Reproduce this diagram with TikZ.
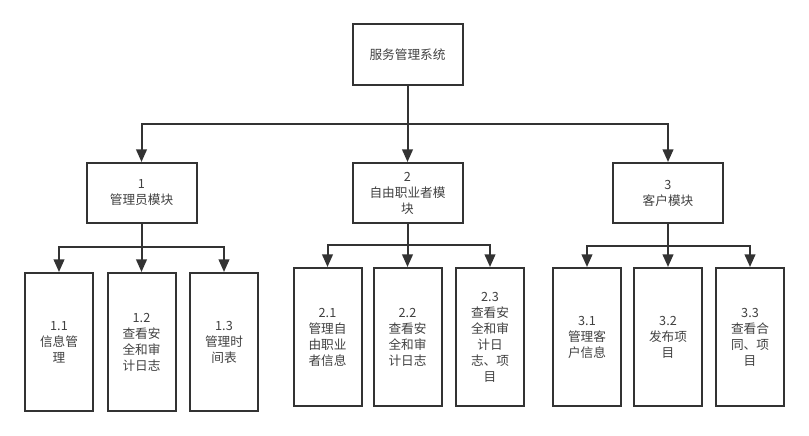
\documentclass[tikz,border=0pt]{standalone}
\usepackage{fontspec}
\setmainfont{Noto Sans CJK SC}
\usetikzlibrary{arrows.meta}

\begin{document}
\begin{tikzpicture}[x=0.75pt,y=-0.75pt,
  box/.style={draw=black!80,line width=1.5pt,inner sep=0pt,align=center,text=black!75,font=\fontsize{9.5}{12}\selectfont},
  topbox/.style={box,minimum width=82.5pt,minimum height=45.75pt},
  modbox/.style={box,minimum width=82.5pt,minimum height=45pt},
  leaf/.style={box,minimum width=51pt,minimum height=103.5pt},
  arr/.style={draw=black!80,line width=1.5pt,-{Triangle[length=9.5pt,width=8pt]}}]

\useasboundingbox (0,0) rectangle (809,435);

\node[topbox] (root) at (407.5,54.5) {服务管理系统};

\node[modbox] (m1) at (141.5,193) {1\\管理员模块};
\node[modbox] (m2) at (407.5,193) {2\\自由职业者模\\块};
\node[modbox] (m3) at (668,193) {3\\客户模块};

\node[leaf] (m11) at (59,342) {1.1\\信息管\\理};
\node[leaf] (m12) at (141.5,342) {1.2\\查看安\\全和审\\计日志};
\node[leaf] (m13) at (224,342) {1.3\\管理时\\间表};

\node[leaf] (m21) at (327.5,337) {2.1\\管理自\\由职业\\者信息};
\node[leaf] (m22) at (407.5,337) {2.2\\查看安\\全和审\\计日志};
\node[leaf] (m23) at (490,337) {2.3\\查看安\\全和审\\计日\\志、项\\目};

\node[leaf] (m31) at (587,337) {3.1\\管理客\\户信息};
\node[leaf] (m32) at (668,337) {3.2\\发布项\\目};
\node[leaf] (m33) at (750,337) {3.3\\查看合\\同、项\\目};

\coordinate (b0) at (407.5,124);
\draw[arr] (root.south) -- (m2.north);
\draw[arr] (b0) -| (m1.north);
\draw[arr] (b0) -| (m3.north);

\coordinate (b1) at (141.5,247);
\draw[arr] (m1.south) -- (m12.north);
\draw[arr] (b1) -| (m11.north);
\draw[arr] (b1) -| (m13.north);

\coordinate (b2) at (407.5,245);
\draw[arr] (m2.south) -- (m22.north);
\draw[arr] (b2) -| (m21.north);
\draw[arr] (b2) -| (m23.north);

\coordinate (b3) at (668,246);
\draw[arr] (m3.south) -- (m32.north);
\draw[arr] (b3) -| (m31.north);
\draw[arr] (b3) -| (m33.north);

\end{tikzpicture}
\end{document}
